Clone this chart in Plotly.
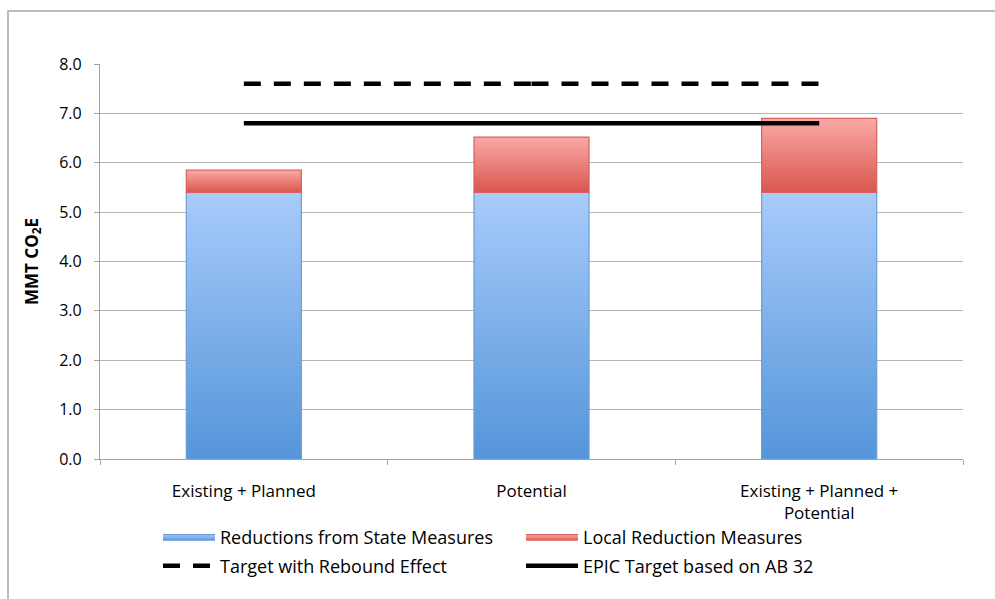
import plotly.graph_objects as go

# Scenario categories and stacked reduction values (MMT CO2E)
categories = ["Existing + Planned", "Potential", "Existing + Planned +<br>Potential"]
state_measures = [5.4, 5.4, 5.4]
local_measures = [0.45, 1.12, 1.5]
rebound_target = [7.6, 7.6, 7.6]
epic_target = [6.8, 6.8, 6.8]

y_ticks = [0, 1, 2, 3, 4, 5, 6, 7, 8]

BAR_HALF = 0.2          # half bar width in category units
FONT = "Open Sans"

BLUE_SCALE = [[0, "#5595da"], [1, "#a8cbfa"]]
RED_SCALE = [[0, "#d9574f"], [1, "#faa9a5"]]


def rect_path(centers, bases, tops):
    """Outline of one rectangle per category, separated by gaps."""
    xs, ys = [], []
    for c, b, t in zip(centers, bases, tops):
        xs += [c - BAR_HALF, c + BAR_HALF, c + BAR_HALF, c - BAR_HALF, c - BAR_HALF, None]
        ys += [b, b, t, t, b, None]
    return xs, ys


positions = list(range(len(categories)))
fig = go.Figure()

# State measures: lower segment of each stacked column
bx, by = rect_path(positions, [0] * len(positions), state_measures)
fig.add_trace(go.Scatter(
    x=bx, y=by, mode="lines", fill="toself",
    fillgradient=dict(type="vertical", colorscale=BLUE_SCALE),
    line=dict(color="#6a9fd6", width=1.2),
    name="Reductions from State Measures", legend="legend",
    hoverinfo="skip",
))

# Local measures: upper segment, each with its own gradient span
for i, (p, base, val) in enumerate(zip(positions, state_measures, local_measures)):
    rx, ry = rect_path([p], [base], [base + val])
    fig.add_trace(go.Scatter(
        x=rx, y=ry, mode="lines", fill="toself",
        fillgradient=dict(type="vertical", colorscale=RED_SCALE),
        line=dict(color="#d6635d", width=1.2),
        name="Local Reduction Measures", legend="legend",
        legendgroup="local", showlegend=(i == 0),
        hoverinfo="skip",
    ))

# Target lines; the dash pattern restarts at each category
dx, dy = [], []
for a in range(len(positions) - 1):
    dx += [positions[a], positions[a + 1], None]
    dy += [rebound_target[a], rebound_target[a + 1], None]
fig.add_trace(go.Scatter(
    x=dx, y=dy, mode="lines",
    line=dict(color="#000000", width=4.5, dash="17px,13px"),
    name="Target with Rebound Effect", legend="legend2",
))
fig.add_trace(go.Scatter(
    x=positions, y=epic_target, mode="lines",
    line=dict(color="#000000", width=4.5),
    name="EPIC Target based on AB 32", legend="legend2",
))

grid = "#b5b5b5"
axis = "#a3a3a3"

legend_common = dict(
    orientation="h", xanchor="left", yanchor="middle",
    font=dict(family=FONT, size=18, color="#000000"),
    itemwidth=52, entrywidth=296, bgcolor="rgba(0,0,0,0)",
    itemclick=False, itemdoubleclick=False,
)

fig.update_layout(
    width=995, height=599,
    margin=dict(l=100, r=32, t=64, b=140, autoexpand=False),
    paper_bgcolor="#ffffff", plot_bgcolor="#ffffff",
    font=dict(family=FONT, size=15, color="#000000"),
    showlegend=True,
    legend=dict(x=(158 - 100) / 863, y=(459 - 537) / 395, **legend_common),
    legend2=dict(x=(158 - 100) / 863, y=(459 - 566) / 395, **legend_common),
    xaxis=dict(
        range=[-0.5, len(categories) - 0.5],
        tickmode="array", tickvals=positions, ticktext=categories,
        ticks="", showgrid=False, zeroline=False,
        showline=True, linecolor=axis, linewidth=1.3,
        tickfont=dict(family=FONT, size=17, color="#000000"),
        ticklabelstandoff=16,
        minor=dict(tick0=-0.5, dtick=1, ticks="outside", ticklen=5,
                   tickcolor=axis, tickwidth=1.3, showgrid=False),
    ),
    yaxis=dict(
        range=[0, 8], tickmode="array", tickvals=y_ticks, tickformat=".1f",
        ticks="outside", ticklen=5, tickcolor=axis, tickwidth=1.3,
        showgrid=True, gridcolor=grid, gridwidth=1.3,
        zeroline=False, showline=True, linecolor=axis, linewidth=1.3,
        tickfont=dict(family=FONT, size=16, color="#000000"),
        ticklabelstandoff=9,
        title=dict(text="<b>MMT CO<sub>2</sub>E</b>",
                   font=dict(family=FONT, size=17, color="#000000"),
                   standoff=16),
    ),
    shapes=[dict(
        type="rect", xref="paper", yref="paper",
        x0=(8 - 100) / 863, x1=1.06, y0=-0.4, y1=(459 - 11) / 395,
        line=dict(color="#a6a6a6", width=1.5), fillcolor="rgba(0,0,0,0)",
        layer="below",
    )],
)

fig.write_html("out.html")
